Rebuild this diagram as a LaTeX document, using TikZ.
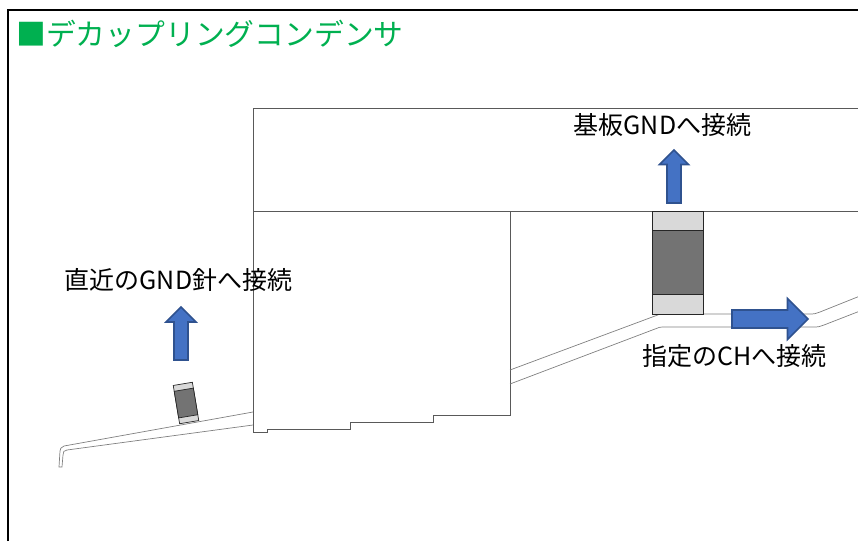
\documentclass[tikz,border=0pt]{standalone}
\usepackage{fontspec}
\setmainfont{Noto Sans CJK JP}
\usetikzlibrary{shapes.arrows}
\definecolor{titlegreen}{HTML}{00B050}
\definecolor{arrowfill}{HTML}{4472C4}
\definecolor{arrowline}{HTML}{2F528F}
\tikzset{
  outline/.style={draw=black!65, line width=0.7pt},
  trace/.style={draw=black!50, line width=0.7pt},
  electrode/.style={draw=black!85, fill=black!15, line width=0.7pt},
  body/.style={draw=black!85, fill=black!55, line width=0.7pt},
  label/.style={inner sep=0pt, font=\fontsize{25}{28}\selectfont},
  bigarrow/.style={single arrow, draw=arrowline, fill=arrowfill, line width=1.6pt,
    inner xsep=0pt, anchor=center}
}
\begin{document}
\begin{tikzpicture}[x=1pt,y=-1pt]

\useasboundingbox (0,0) rectangle (858,541);
\clip (0,0) rectangle (858,541);

% frame
\draw[black, line width=2pt] (8,541) -- (8,10) -- (858,10);
\node[anchor=west, inner sep=0pt, text=titlegreen, font=\fontsize{29.8}{32}\selectfont] (title) at (16,34) {■デカップリングコンデンサ};

% substrate
\draw[outline] (253,108) rectangle (860,211);
\draw[outline] (253,211) -- (510,211) -- (510,415) -- (433,415) -- (433,422) -- (350,422)
  -- (350,429) -- (267,429) -- (267,432) -- (253,432) -- cycle;

% traces
\draw[trace] (253,412) -- (64,446) .. controls (61,447) and (60,449) .. (60,451) -- (59,467)
  -- (62,467) -- (63,455) .. controls (63,452) and (64,450) .. (67,450) -- (253,425);
\draw[trace] (510,370) -- (655,316) .. controls (658,314.5) and (660,314) .. (664,314) -- (810,314)
  .. controls (814,314) and (817,313.5) .. (820,312) -- (860,296);
\draw[trace] (510,384) -- (655,329) .. controls (658,327.5) and (660,327) .. (664,327) -- (814,327)
  .. controls (818,327) and (821,326.5) .. (824,325) -- (860,311);

% large capacitor
\draw[electrode] (652,211) rectangle (703,314);
\draw[body] (652,230) rectangle (703,294);

% small capacitor
\begin{scope}[shift={(186,403)}, rotate=9.5]
\draw[electrode] (-9.7,-19.4) rectangle (9.7,19.4);
\draw[body] (-9.7,-13.5) rectangle (9.7,13.5);
\end{scope}

% arrows
\node[bigarrow, rotate=90, inner ysep=6.2pt, minimum height=53pt,
  single arrow head extend=8pt, single arrow tip angle=90] (arrowleft) at (181,337) {};
\node[bigarrow, rotate=90, inner ysep=6.2pt, minimum height=53pt,
  single arrow head extend=7.5pt, single arrow tip angle=90] (arrowup) at (674,180) {};
\node[bigarrow, inner ysep=8.2pt, minimum height=76pt,
  single arrow head extend=11.5pt, single arrow tip angle=90] (arrowright) at (765.5,319) {};

% labels
\node[label, anchor=center] (lblboard) at (662.5,125) {基板GNDへ接続};
\node[label, anchor=center] (lblneedle) at (178.5,280) {直近のGND針へ接続};
\node[label, anchor=center] (lblch) at (734.5,356) {指定のCHへ接続};

\end{tikzpicture}
\end{document}
